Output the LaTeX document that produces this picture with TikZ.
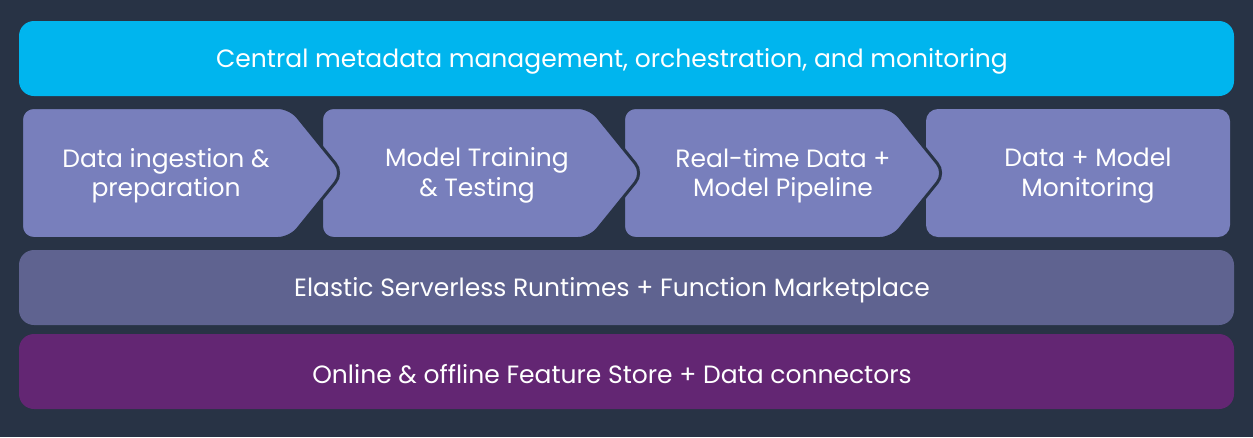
\documentclass[tikz,border=0pt]{standalone}
\usepackage{fontspec}
\setmainfont{Poppins}
\usepackage{tikz}
\usetikzlibrary{positioning}

\definecolor{bgnavy}{HTML}{283345}
\definecolor{metacyan}{HTML}{00B5EE}
\definecolor{stagefill}{HTML}{787FBC}
\definecolor{runtimefill}{HTML}{5F6390}
\definecolor{storefill}{HTML}{632673}

\begin{document}
\begin{tikzpicture}[x=1pt, y=-1pt,
    layer/.style={rounded corners=15pt},
    stage/.style={fill=stagefill, draw=bgnavy, line width=3pt, rounded corners=12pt},
    caption/.style={text=white, font=\fontsize{25}{29.5}\selectfont, align=center}
]

% Fond
\fill[bgnavy] (0,0) rectangle (1253,437);
\useasboundingbox (0,0) rectangle (1253,437);

% Couches horizontales
\fill[metacyan, layer] (19,21) rectangle (1234,96);
\fill[runtimefill, layer] (19,250) rectangle (1234,325);
\fill[storefill, layer] (19,334) rectangle (1234,409);

% Etapes (de droite a gauche pour le recouvrement)
\fill[stagefill, rounded corners=12pt] (926,109) rectangle (1230,237);
\foreach \x in {625, 323, 23} {
    \draw[stage] (\x-1.5,107.5) -- (\x+267,107.5) -- (\x+320,173)
        -- (\x+267,238.5) -- (\x-1.5,238.5) -- cycle;
}

% Textes
\node[caption] (meta) at (612,61) {Central metadata management, orchestration, and monitoring};
\node[caption] (ingest) at (166,175.5) {Data ingestion \&\\preparation};
\node[caption] (train) at (477,175.5) {Model Training\\\& Testing};
\node[caption] (pipeline) at (783,175.5) {Real-time Data +\\Model Pipeline};
\node[caption] (monitor) at (1088,175.5) {Data + Model\\Monitoring};
\node[caption] (runtime) at (612,290) {Elastic Serverless Runtimes + Function Marketplace};
\node[caption] (store) at (612,374) {Online \& offline Feature Store + Data connectors};

\end{tikzpicture}
\end{document}
